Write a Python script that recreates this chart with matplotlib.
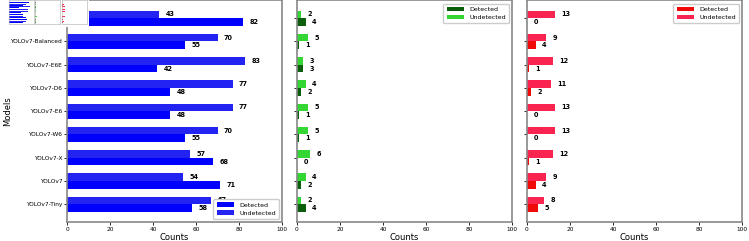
import matplotlib
matplotlib.use("Agg")
import matplotlib.pyplot as plt
import numpy as np

models = ["YOLOv7-Tiny", "YOLOv7", "YOLOv7-X", "YOLOv7-W6", "YOLOv7-E6",
          "YOLOv7-D6", "YOLOv7-E6E", "YOLOv7-Balanced", "YOLOv7-Optimized"]

blue_detected = [58, 71, 68, 55, 48, 48, 42, 55, 82]
blue_undetected = [67, 54, 57, 70, 77, 77, 83, 70, 43]

green_detected = [4, 2, 0, 1, 1, 2, 3, 1, 4]
green_undetected = [2, 4, 6, 5, 5, 4, 3, 5, 2]

red_detected = [5, 4, 1, 0, 0, 2, 1, 4, 0]
red_undetected = [8, 9, 12, 13, 13, 11, 12, 9, 13]

panels = [
    (blue_detected, blue_undetected, "#0000ff", "#2424f2", "lower right"),
    (green_detected, green_undetected, "#0b5e0b", "#33d633", "upper right"),
    (red_detected, red_undetected, "#f00a0a", "#fa2450", "upper right"),
]

fig = plt.figure(figsize=(7.49, 2.41), dpi=100)
lefts = [0.0895, 0.3965, 0.7036]
y = np.arange(len(models))
h = 0.33

for i, (det, und, c1, c2, loc) in enumerate(panels):
    ax = fig.add_axes([lefts[i], 0.079, 0.287, 0.919])
    ax.barh(y - h/2, det, h, color=c1, label="Detected")
    ax.barh(y + h/2, und, h, color=c2, label="Undetected")
    for k in range(len(models)):
        ax.text(det[k] + 3, y[k] - h/2, str(det[k]), va="center", fontsize=4.7, fontweight="bold")
        ax.text(und[k] + 3, y[k] + h/2, str(und[k]), va="center", fontsize=4.7, fontweight="bold")
    ax.set_xlim(0, 100)
    ax.set_xticks([0, 20, 40, 60, 80, 100])
    ax.set_yticks(y)
    if i == 0:
        ax.set_yticklabels(models)
        ax.set_ylabel("Models", fontsize=6)
        ax.yaxis.set_label_coords(-0.255, 0.5)
    else:
        ax.set_yticklabels([])
    ax.set_xlabel("Counts", fontsize=6, labelpad=1)
    ax.tick_params(labelsize=4.2, length=2, width=0.6, pad=1.5)
    for s in ax.spines.values():
        s.set_color("#888888")
        s.set_linewidth(1.2)
    ax.legend(loc=loc, fontsize=4.5, handlelength=2.8, borderpad=0.5,
              labelspacing=0.4, framealpha=1, edgecolor="#cccccc")

# small thumbnail of the figure sitting over the top-left corner
thumb = fig.add_axes([0.0, 0.89, 0.119, 0.11])
thumb.set_facecolor("white")
thumb.set_xticks([])
thumb.set_yticks([])
for s in thumb.spines.values():
    s.set_visible(False)
tl = [0.012, 0.047, 0.083]
for i, (det, und, c1, c2, loc) in enumerate(panels):
    t = fig.add_axes([tl[i], 0.902, 0.033, 0.096])
    t.barh(y - h/2, det, h, color=c1)
    t.barh(y + h/2, und, h, color=c2)
    t.set_xlim(0, 100)
    t.set_xticks([])
    t.set_yticks([])
    for s in t.spines.values():
        s.set_color("#aaaaaa")
        s.set_linewidth(0.4)

plt.savefig("out.png", dpi=100)
